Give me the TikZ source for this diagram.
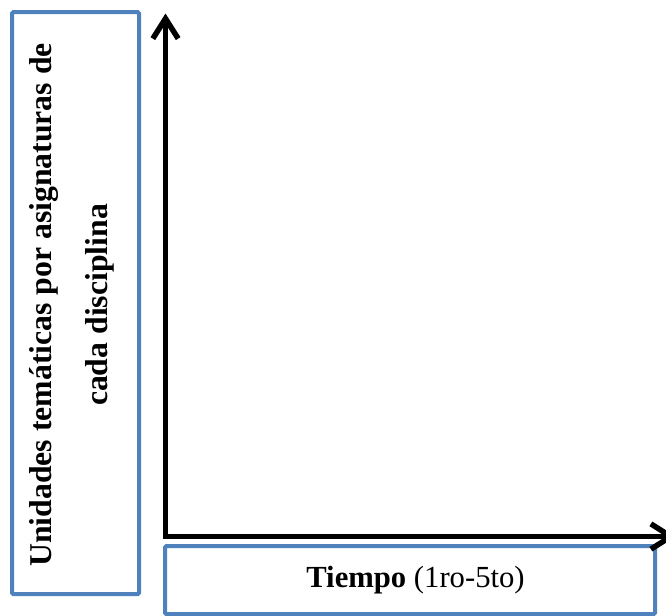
\documentclass[tikz,border=0pt]{standalone}
\usepackage{fontspec}
\setmainfont{Liberation Serif}
\usetikzlibrary{arrows.meta}
\definecolor{frameblue}{RGB}{79,129,189}
\begin{document}
\begin{tikzpicture}[x=0.75pt,y=-0.75pt,
  framebox/.style={draw=frameblue,line width=3pt,rounded corners=1pt},
  axisline/.style={line width=4.1pt,line join=miter,
    {Straight Barb[length=15pt,width=19pt]}-{Straight Barb[length=15pt,width=19pt]}},
  labeltext/.style={inner sep=0pt}]
  \useasboundingbox (0,0) rectangle (666,615);
  % frames
  \draw[framebox] (12,12) rectangle (139,594);
  \draw[framebox] (165,546) rectangle (655,614);
  % axes
  \coordinate (O) at (165.5,536.5);
  \coordinate (ytip) at (165.5,13.5);
  \coordinate (xtip) at (676,536.5);
  \draw[axisline] (ytip) -- (O) -- (xtip);
  % labels
  \node[labeltext,font=\fontsize{23.8}{42}\selectfont,rotate=90,align=center]
    (ylabel) at (72,305)
    {\textbf{Unidades temáticas por asignaturas de}\\\textbf{cada disciplina}};
  \node[labeltext,font=\fontsize{23}{41}\selectfont,anchor=base] (xlabel) at (415.5,587)
    {\textbf{Tiempo} (1ro-5to)};
\end{tikzpicture}
\end{document}
